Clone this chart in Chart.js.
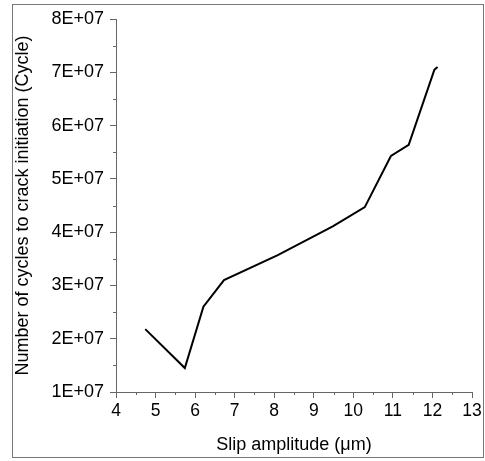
<!DOCTYPE html>
<html>
<head>
<meta charset="utf-8">
<script src="https://cdn.jsdelivr.net/npm/chart.js@4"></script>
<style>
  html, body { margin: 0; padding: 0; background: #fff; }
  #wrap { width: 485px; height: 461px; position: relative; }
</style>
</head>
<body>
<div id="wrap"><canvas id="cycleChart" width="485" height="461"></canvas></div>
<script>
// Slip amplitude (µm) vs number of cycles to crack initiation
const slipAmplitude = [4.74, 5.74, 6.21, 6.73, 8.09, 9.48, 10.29, 10.95, 11.40, 12.05, 12.13];
const cyclesToInit = [2.18e7, 1.45e7, 2.60e7, 3.10e7, 3.57e7, 4.11e7, 4.47e7, 5.43e7, 5.64e7, 7.05e7, 7.10e7];
const xTicks = [4, 5, 6, 7, 8, 9, 10, 11, 12, 13];
const yTicks = [1e7, 2e7, 3e7, 4e7, 5e7, 6e7, 7e7, 8e7];

const axisColor = '#666';
const fontFamily = '"Liberation Sans", Arial, sans-serif';

// marco gris alrededor de toda la figura + minor ticks a mitad de paso
const framePlugin = {
    id: 'frameAndMinor',
    beforeDraw(chart) {
        const ctx = chart.ctx;
        ctx.save();
        ctx.fillStyle = '#fff';
        ctx.fillRect(0, 0, chart.width, chart.height);
        ctx.strokeStyle = '#777';
        ctx.lineWidth = 1;
        ctx.strokeRect(12.5, 4.5, 471, 453);
        ctx.restore();
    },
    afterDraw(chart) {
        const ctx = chart.ctx;
        const xs = chart.scales.x;
        const ys = chart.scales.y;
        ctx.save();
        ctx.strokeStyle = axisColor;
        ctx.lineWidth = 1;
        ctx.beginPath();
        for (let i = 0; i < xTicks.length - 1; i++) {
            const px = Math.round(xs.getPixelForValue(xTicks[i] + 0.5)) + 0.5;
            ctx.moveTo(px, xs.top);
            ctx.lineTo(px, xs.top + 3);
        }
        for (let i = 0; i < yTicks.length - 1; i++) {
            const py = Math.round(ys.getPixelForValue(yTicks[i] + 5e6)) + 0.5;
            ctx.moveTo(ys.right, py);
            ctx.lineTo(ys.right - 3, py);
        }
        ctx.stroke();
        ctx.restore();
    }
};

const ctx = document.getElementById('cycleChart').getContext('2d');
new Chart(ctx, {
    type: 'scatter',
    data: {
        datasets: [{
            label: 'Cycles',
            data: slipAmplitude.map((x, i) => ({ x: x, y: cyclesToInit[i] })),
            showLine: true,
            borderColor: '#000',
            borderWidth: 2,
            pointRadius: 0,
            fill: false,
            tension: 0
        }]
    },
    options: {
        responsive: false,
        animation: false,
        devicePixelRatio: 1,
        layout: { padding: { left: 0, top: 19, right: 13, bottom: 0 } },
        plugins: {
            legend: { display: false },
            tooltip: { enabled: false }
        },
        scales: {
            x: {
                type: 'linear',
                min: 4,
                max: 13,
                afterFit: s => { s.height = 69; },
                afterBuildTicks: s => { s.ticks = xTicks.map(v => ({ value: v })); },
                grid: { drawOnChartArea: false, tickLength: 6, color: axisColor },
                border: { color: axisColor },
                ticks: {
                    color: '#000',
                    padding: 3,
                    maxRotation: 0,
                    font: { family: fontFamily, size: 17.5 }
                },
                title: {
                    display: true,
                    text: 'Slip amplitude (\u03bcm)',
                    color: '#000',
                    padding: { top: 0, bottom: 5 },
                    font: { family: fontFamily, size: 18 }
                }
            },
            y: {
                type: 'linear',
                min: 1e7,
                max: 8e7,
                afterFit: s => { s.width = 116; },
                afterBuildTicks: s => { s.ticks = yTicks.map(v => ({ value: v })); },
                grid: { drawOnChartArea: false, tickLength: 6, color: axisColor },
                border: { color: axisColor },
                ticks: {
                    color: '#000',
                    padding: 6,
                    font: { family: fontFamily, size: 18 },
                    callback: v => (v / 1e7) + 'E+07'
                },
                title: {
                    display: true,
                    text: 'Number of cycles to crack initiation (Cycle)',
                    color: '#000',
                    padding: { top: 12, bottom: 0 },
                    font: { family: fontFamily, size: 18 }
                }
            }
        }
    },
    plugins: [framePlugin]
});
</script>
</body>
</html>
